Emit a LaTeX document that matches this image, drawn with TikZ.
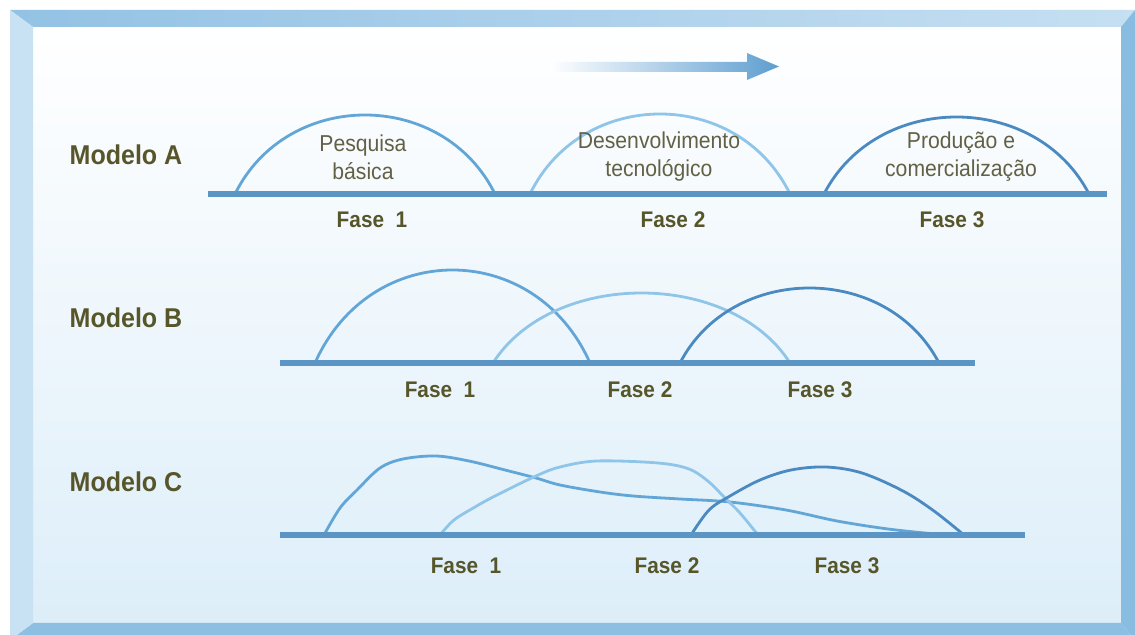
\documentclass[tikz,border=0pt]{standalone}
\usepackage{fontspec}
\setmainfont{Liberation Sans}[FakeStretch=0.92]
\definecolor{olive}{HTML}{57562A}
\definecolor{olivelt}{HTML}{626146}
\definecolor{basebl}{HTML}{5A95C6}
\definecolor{medbl}{HTML}{62A6D8}
\definecolor{ltbl}{HTML}{8FC5E9}
\definecolor{dkbl}{HTML}{4B8AC1}
\definecolor{arrbl}{HTML}{5E9ED0}
\definecolor{frtop}{HTML}{93C2E4}
\definecolor{frtoplt}{HTML}{C6DFF2}
\definecolor{frleft}{HTML}{C9E2F3}
\definecolor{frright}{HTML}{88BDE1}
\definecolor{frbot}{HTML}{8CBFE2}
\definecolor{inbot}{HTML}{DDEEF9}
\tikzset{
  modlabel/.style={font=\fontsize{13.6}{16}\selectfont\bfseries, text=olive, inner sep=0pt},
  faselabel/.style={font=\fontsize{11.3}{13}\selectfont\bfseries, text=olive, inner sep=0pt},
  phaselabel/.style={font=\fontsize{11.5}{14}\selectfont, text=olivelt, align=center, inner sep=0pt},
  baseline line/.style={draw=basebl, line width=3pt},
  hump/.style={line width=1.4pt, line cap=round}
}
\newcommand\humpdraw[5]{% color, x0, x1, height, y0
  \draw[hump, draw=#1] (#2,#5) .. controls ({#2+0.2*(#3-#2)},{#5-#4*4/3}) and ({#3-0.2*(#3-#2)},{#5-#4*4/3}) .. (#3,#5);}
\begin{document}
\begin{tikzpicture}[x=0.5pt,y=-0.5pt]
\useasboundingbox (0,0) rectangle (1135,635);
\fill[white] (0,0) rectangle (1135,635);
% interior
\shade[top color=white, bottom color=inbot] (33,27) rectangle (1121,623);
% frame bevels
\shade[left color=frtop, right color=frtoplt] (10,10) -- (1135,10) -- (1121,27) -- (33,27) -- cycle;
\fill[frright] (1135,10) -- (1135,640) -- (1121,623) -- (1121,27) -- cycle;
\fill[frbot] (33,623) -- (1121,623) -- (1135,640) -- (10,640) -- cycle;
\fill[frleft] (10,10) -- (33,27) -- (33,623) -- (10,640) -- cycle;
% top arrow
\shade[left color=white, right color=arrbl] (550,62) -- (747,62) -- (747,53) -- (779,66.5) -- (747,80) -- (747,72) -- (550,72) -- cycle;

% ---------- Modelo A ----------
\node[modlabel] (ma) at (126,155) {Modelo A};
\humpdraw{medbl}{235}{495}{79}{194}
\humpdraw{ltbl}{530}{790}{80}{194}
\humpdraw{dkbl}{824}{1089}{77}{194}
\coordinate (a0) at (208,194);
\coordinate (a1) at (1107,194);
\draw[baseline line] (a0) -- (a1);
\node[phaselabel] (pa1) at (363,157) {Pesquisa\\básica};
\node[phaselabel] (pa2) at (659,157) {Desenvolvimento\\tecnológico};
\node[phaselabel] (pa3) at (961,157) {Produção e\\comercialização};
\node[faselabel] (fa1) at (372,220) {Fase~~1};
\node[faselabel] (fa2) at (673,220) {Fase 2};
\node[faselabel] (fa3) at (952,220) {Fase 3};

% ---------- Modelo B ----------
\node[modlabel] (mb) at (126,318) {Modelo B};
\humpdraw{medbl}{315}{590}{93}{363}
\humpdraw{ltbl}{493}{790}{70}{363}
\humpdraw{dkbl}{680}{939}{75}{363}
\coordinate (b0) at (280,363);
\coordinate (b1) at (975,363);
\draw[baseline line] (b0) -- (b1);
\node[faselabel] (fb1) at (440,390) {Fase~~1};
\node[faselabel] (fb2) at (640,390) {Fase 2};
\node[faselabel] (fb3) at (820,390) {Fase 3};

% ---------- Modelo C ----------
\node[modlabel] (mc) at (126,482) {Modelo C};
\draw[hump, draw=medbl] plot[smooth, tension=0.55] coordinates {(324,535) (340,508) (357,490) (380,468) (403,459) (436,456) (469,461) (505,470) (536,478) (560,485) (600,492) (633,496) (680,499) (730,502) (786,510) (837,521) (888,529) (935,534)};
\draw[hump, draw=ltbl] plot[smooth, tension=0.55] coordinates {(440,535) (454,520) (475,507) (495,496) (536,476) (560,467) (597,461) (658,463) (689,469) (709,482) (724,497) (740,513) (758,535)};
\draw[hump, draw=dkbl] plot[smooth, tension=0.55] coordinates {(691,535) (709,510) (730,496) (760,480) (791,470) (826,467) (862,473) (903,491) (934,511) (964,535)};
\coordinate (c0) at (280,535);
\coordinate (c1) at (1025,535);
\draw[baseline line] (c0) -- (c1);
\node[faselabel] (fc1) at (466,566) {Fase~~1};
\node[faselabel] (fc2) at (667,566) {Fase 2};
\node[faselabel] (fc3) at (847,566) {Fase 3};
\end{tikzpicture}
\end{document}
